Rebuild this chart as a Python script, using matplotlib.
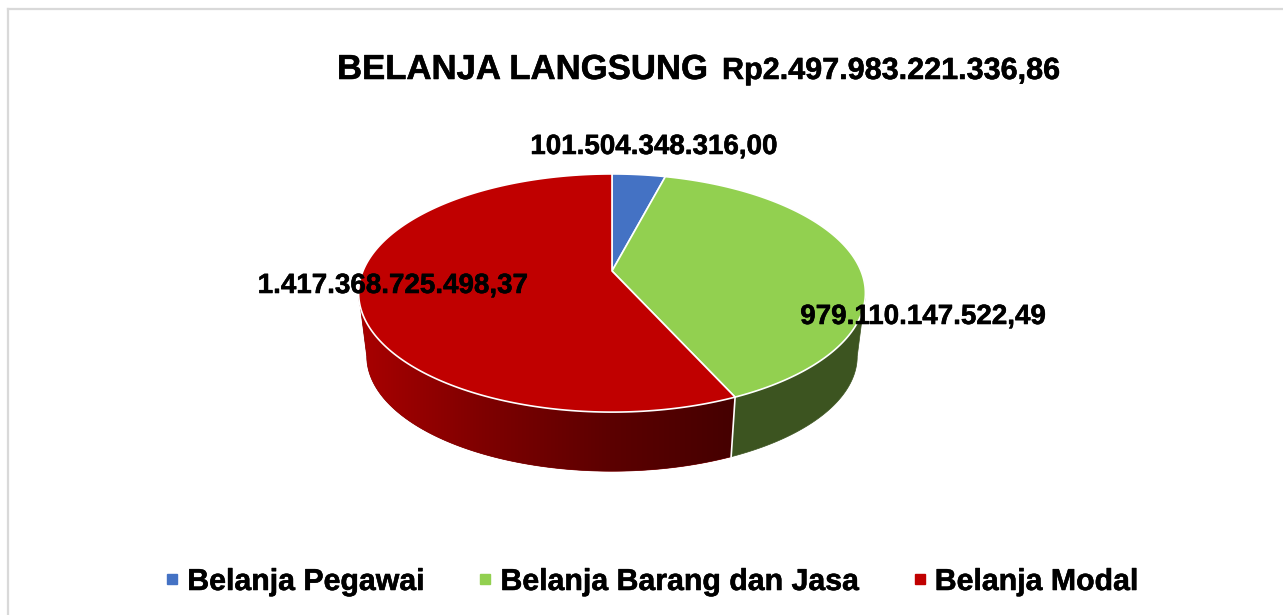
import numpy as np
import matplotlib
matplotlib.use("Agg")
import matplotlib.pyplot as plt
import matplotlib.patheffects as pe
from matplotlib.lines import Line2D
from matplotlib.colors import LinearSegmentedColormap

plt.rcParams['font.family'] = ['Liberation Sans', 'DejaVu Sans']

# Data
categories = ["Belanja Pegawai", "Belanja Barang dan Jasa", "Belanja Modal"]
values = [101504348316.00, 979110147522.49, 1417368725498.37]
value_labels = ["101.504.348.316,00", "979.110.147.522,49", "1.417.368.725.498,37"]
title_main = "BELANJA LANGSUNG"
title_total = "Rp2.497.983.221.336,86"

top_colors = ["#4472C4", "#92D050", "#C00000"]

# Pie geometry in pixels, the perspective mimics the tilted 3D pie
cx = 612
top_y = 271
top_rx, top_ry = 249, 115
bottom_y = 335
bottom_rx, bottom_ry = 241, 111
persp = 0.185

# makes the text as heavy as in the reference
heavy = [pe.withStroke(linewidth=0.4, foreground="black")]


def project(theta, y0, rx, ry):
    # theta is clockwise from 12 o'clock
    u, v = np.sin(theta), np.cos(theta)
    w = 1 + persp * v
    return cx + rx * u / w, y0 - ry * v / w


def wall_polygon(start, end):
    th = np.linspace(start, end, 300)
    xt, yt = project(th, top_y, top_rx, top_ry)
    xb, yb = project(th[::-1], bottom_y, bottom_rx, bottom_ry)
    return np.r_[xt, xb], np.r_[yt, yb]


fig = plt.figure(figsize=(12.83, 6.15), dpi=100)
ax = fig.add_axes([0, 0, 1, 1])
ax.set_xlim(0, 1283)
ax.set_ylim(615, 0)
ax.axis("off")

# Chart frame, only top and left are in view
ax.plot([8, 8], [615, 9], color="#D9D9D9", lw=1.6)
ax.plot([8, 1283], [9, 9], color="#D9D9D9", lw=1.6)

edges = np.concatenate([[0], np.cumsum(values) / np.sum(values)]) * 2 * np.pi

# Angles where the pie outline is widest, the wall is only seen between them
side = np.arccos(-persp)

# Side wall of the green slice, flat colour
x, y = wall_polygon(side, edges[2])
ax.fill(x, y, color="#3C5420", lw=0.5, zorder=2)

# Side wall of the red slice, gets darker going right
x, y = wall_polygon(edges[2], 2 * np.pi - side)
red_wall = ax.fill(x, y, color="#800000", lw=0.5, zorder=2)[0]
red_cmap = LinearSegmentedColormap.from_list("wall", ["#A80000", "#7E0000", "#5C0000", "#450000"])
grad = ax.imshow(np.linspace(0, 1, 256).reshape(1, -1), cmap=red_cmap, aspect="auto",
                 extent=(360, 735, 480, 170), zorder=2.5)
grad.set_clip_path(red_wall)
ax.set_xlim(0, 1283)
ax.set_ylim(615, 0)

# White seam between the front walls
xs, ys = project(edges[2], top_y, top_rx, top_ry)
xe, ye = project(edges[2], bottom_y, bottom_rx, bottom_ry)
ax.plot([xs, xe], [ys, ye], color="white", lw=1.2, zorder=3)

# Top surface
for i in range(len(values)):
    th = np.linspace(edges[i], edges[i + 1], 200)
    x, y = project(th, top_y, top_rx, top_ry)
    ax.fill(np.r_[cx, x], np.r_[top_y, y], facecolor=top_colors[i],
            edgecolor="white", lw=1.2, joinstyle="round", zorder=4)

# Title
ax.text(337, 79, title_main, fontsize=25, fontweight="bold", va="baseline", zorder=6, path_effects=heavy)
ax.text(722, 79, title_total, fontsize=22, fontweight="bold", va="baseline", zorder=6, path_effects=heavy)

# Value labels
ax.text(654, 154, value_labels[0], fontsize=20, fontweight="bold", ha="center", va="baseline", zorder=6, path_effects=heavy)
ax.text(923, 324, value_labels[1], fontsize=20, fontweight="bold", ha="center", va="baseline", zorder=6, path_effects=heavy)
ax.text(393, 293, value_labels[2], fontsize=20, fontweight="bold", ha="center", va="baseline", zorder=6, path_effects=heavy)

# Legend
handles = [Line2D([], [], ls="", marker="s", ms=7.2, mfc=c, mec=c) for c in top_colors]
leg = ax.legend(handles, categories, ncol=3, loc="center left", bbox_to_anchor=(157 / 1283, 1 - 582 / 615),
                frameon=False, prop={"size": 21.8, "weight": "bold"}, handletextpad=0,
                columnspacing=1.52, handlelength=1.0, borderpad=0, borderaxespad=0)
for t in leg.get_texts():
    t.set_path_effects(heavy)

fig.savefig("out.png", dpi=100, facecolor="white")
